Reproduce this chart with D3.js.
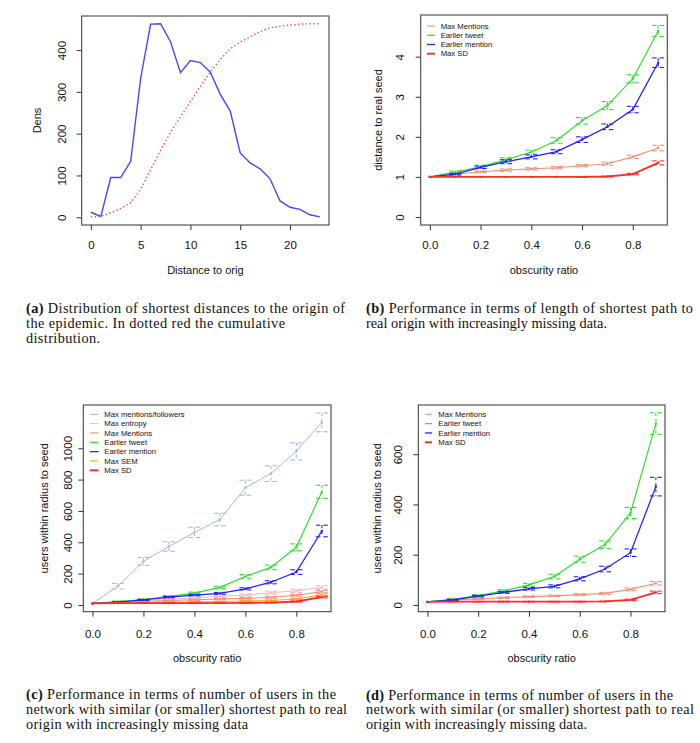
<!DOCTYPE html>
<html>
<head>
<meta charset="utf-8">
<script src="https://cdn.jsdelivr.net/npm/d3@7"></script>
<style>
body { margin: 0; background: #fff; }
svg { display: block; }
.cap { font-family: "Liberation Serif", "Times New Roman", serif; font-size: 14.3px; fill: #111; }
</style>
</head>
<body>
<div id="fig"></div>
<script>
'use strict';

// (a) shortest distance distribution
const dist = [0, 1, 2, 3, 4, 5, 6, 7, 8, 9, 10, 11, 12, 13, 14, 15, 16, 17, 18, 19, 20, 21, 22, 23];
const densCount = [12, 2, 95, 95, 134, 332, 462, 463, 420, 346, 375, 370, 347, 294, 254, 154, 130, 116, 92, 39, 24, 19, 6, 1];
const densCum = [1, 2, 11, 21, 35, 67, 114, 160, 203, 240, 277, 313, 347, 378, 403, 419, 432, 444, 453, 457, 460, 462, 463, 463];
const distTicks = [0, 5, 10, 15, 20];
const densTicks = [0, 100, 200, 300, 400];

// obscurity ratio, shared by b, c, d
const ratio = [0, 0.1, 0.2, 0.3, 0.4, 0.5, 0.6, 0.7, 0.8, 0.9];
const ratioTicks = [0, 0.2, 0.4, 0.6, 0.8];

// (b) distance to real seed
const bMentions = [1.00, 1.06, 1.13, 1.17, 1.20, 1.23, 1.28, 1.33, 1.50, 1.72];
const bMentionsErr = [0, 0.02, 0.02, 0.03, 0.03, 0.03, 0.03, 0.04, 0.04, 0.07];
const bTweet = [1.00, 1.12, 1.25, 1.43, 1.62, 1.91, 2.40, 2.78, 3.45, 4.64];
const bTweetErr = [0, 0.03, 0.04, 0.05, 0.05, 0.07, 0.08, 0.10, 0.10, 0.14];
const bMention = [1.00, 1.07, 1.24, 1.38, 1.50, 1.63, 1.93, 2.25, 2.68, 3.85];
const bMentionErr = [0, 0.02, 0.03, 0.05, 0.05, 0.05, 0.07, 0.07, 0.08, 0.12];
const bSD = [1.00, 1.00, 1.00, 1.00, 1.00, 1.00, 1.00, 1.01, 1.07, 1.35];
const bSDErr = [0, 0, 0, 0, 0, 0, 0.01, 0.01, 0.02, 0.05];
const bTicks = [0, 1, 2, 3, 4];

// (c) users within radius, all heuristics
const cFollowers = [10, 120, 278, 373, 463, 545, 748, 838, 980, 1165];
const cFollowersErr = [0, 18, 25, 30, 33, 40, 48, 50, 55, 60];
const cEntropy = [10, 18, 28, 36, 45, 55, 63, 78, 90, 112];
const cEntropyErr = [0, 3, 4, 5, 6, 7, 8, 10, 10, 12];
const cMentions = [10, 15, 22, 28, 33, 38, 42, 48, 62, 85];
const cMentionsErr = [0, 2, 3, 3, 4, 4, 5, 5, 6, 8];
const cTweet = [10, 22, 35, 55, 76, 112, 182, 240, 368, 722];
const cTweetErr = [0, 3, 4, 5, 6, 8, 12, 15, 22, 42];
const cMention = [10, 18, 32, 50, 63, 74, 103, 145, 210, 472];
const cMentionErr = [0, 2, 3, 4, 5, 6, 7, 10, 15, 37];
const cSEM = [10, 12, 15, 18, 20, 22, 25, 28, 38, 65];
const cSEMErr = [0, 1, 1, 2, 2, 2, 3, 3, 4, 6];
const cSD = [10, 12, 12, 12, 12, 12, 13, 15, 22, 50];
const cSDErr = [0, 1, 1, 1, 1, 1, 1, 2, 3, 5];
const cTicks = [0, 200, 400, 600, 800, 1000];

// (d) users within radius, best heuristics
const dMentions = [12, 20, 24, 29, 33, 36, 41, 46, 62, 86];
const dMentionsErr = [0, 2, 2, 3, 3, 3, 4, 4, 5, 7];
const dTweet = [12, 22, 37, 56, 80, 113, 182, 240, 366, 722];
const dTweetErr = [0, 3, 4, 5, 6, 9, 12, 15, 22, 43];
const dMention = [12, 20, 35, 50, 64, 74, 104, 143, 208, 471];
const dMentionErr = [0, 2, 3, 4, 5, 6, 8, 11, 15, 37];
const dSD = [12, 13, 13, 13, 13, 13, 13, 14, 20, 50];
const dSDErr = [0, 1, 1, 1, 1, 1, 1, 1, 3, 5];
const dTicks = [0, 200, 400, 600];

const col = {
	'Max mentions/followers': '#a6badd',
	'Max entropy': '#ffb3bd',
	'Max Mentions': '#f0917c',
	'Earlier tweet': '#2ee02e',
	'Earlier mention': '#2020ff',
	'Max SEM': '#ffa31a',
	'Max SD': '#ff2a2a'
};
const lw = {
	'Max mentions/followers': 1,
	'Max entropy': 1,
	'Max Mentions': 1.1,
	'Earlier tweet': 1.2,
	'Earlier mention': 1.3,
	'Max SEM': 1.1,
	'Max SD': 1.9
};

const sans = '"Liberation Sans", Arial, sans-serif';

const svg = d3.select('#fig').append('svg')
	.attr('width', 700)
	.attr('height', 743)
	;
svg.append('rect').attr('width', 700).attr('height', 743).attr('fill', '#fff');

function frame(p) {
	let x = d3.scaleLinear().domain(p.xdom).range([p.l, p.r]);
	let y = d3.scaleLinear().domain(p.ydom).range([p.b, p.t]);
	let g = svg.append('g');

	let ax = g.append('g')
		.attr('transform', 'translate(0,'+p.b+')')
		.call(d3.axisBottom(x).tickValues(p.xticks).tickSize(5).tickSizeOuter(0).tickFormat(p.xfmt))
		;
	ax.select('.domain').remove();
	ax.selectAll('line').attr('stroke', '#333');
	ax.selectAll('text')
		.attr('y', p.xgap)
		.attr('dy', 0)
		.attr('fill', '#111')
		.style('font-family', sans)
		.style('font-size', '11.5px')
		;

	let ay = g.append('g')
		.attr('transform', 'translate('+p.l+',0)')
		.call(d3.axisLeft(y).tickValues(p.yticks).tickSize(5).tickSizeOuter(0).tickFormat(d3.format('d')))
		;
	ay.select('.domain').remove();
	ay.selectAll('line').attr('stroke', '#333');
	ay.selectAll('text')
		.attr('transform', 'rotate(-90)')
		.attr('x', 0)
		.attr('y', -p.ygap)
		.attr('dy', 0)
		.attr('text-anchor', 'middle')
		.attr('fill', '#111')
		.style('font-family', sans)
		.style('font-size', '11.5px')
		;

	g.append('rect')
		.attr('x', p.l)
		.attr('y', p.t)
		.attr('width', p.r - p.l)
		.attr('height', p.b - p.t)
		.attr('fill', 'none')
		.attr('stroke', '#333')
		.attr('stroke-width', 1)
		;

	g.append('text')
		.attr('x', (p.l + p.r)/2)
		.attr('y', p.xlabY)
		.attr('text-anchor', 'middle')
		.attr('fill', '#111')
		.style('font-family', sans)
		.style('font-size', '11px')
		.text(p.xlab)
		;
	g.append('text')
		.attr('transform', 'translate('+p.ylabX+','+((p.t + p.b)/2)+') rotate(-90)')
		.attr('text-anchor', 'middle')
		.attr('fill', '#111')
		.style('font-family', sans)
		.style('font-size', '11px')
		.text(p.ylab)
		;

	let plot = g.append('g');
	return {x: x, y: y, g: plot};
}

function series(f, name, vals, errs) {
	let c = col[name];
	let line = d3.line().x((d, i) => f.x(ratio[i])).y(d => f.y(d));
	f.g.append('path')
		.datum(vals)
		.attr('d', line)
		.attr('fill', 'none')
		.attr('stroke', c)
		.attr('stroke-width', lw[name])
		;
	f.g.append('g').selectAll('circle')
		.data(vals)
		.join('circle')
		.attr('cx', (d, i) => f.x(ratio[i]))
		.attr('cy', d => f.y(d))
		.attr('r', 1.2)
		.attr('fill', c)
		;
	// dashed error bars, R arrows(angle=90, code=3, lty=2) style
	let eb = f.g.append('g').attr('stroke', c).attr('stroke-width', 1.1);
	for (let i=0 ; i<vals.length ; ++i) {
		if (!errs[i]) {
			continue;
		}
		let cx = f.x(ratio[i]);
		let lo = f.y(vals[i] - errs[i]);
		let hi = f.y(vals[i] + errs[i]);
		eb.append('line').attr('x1', cx).attr('x2', cx).attr('y1', hi).attr('y2', lo).attr('stroke-dasharray', '3,3');
		[lo, hi].forEach(function(yy) {
			eb.append('line').attr('x1', cx - 1.5).attr('x2', cx - 6).attr('y1', yy).attr('y2', yy);
			eb.append('line').attr('x1', cx + 1.5).attr('x2', cx + 6).attr('y1', yy).attr('y2', yy);
		});
	}
}

function legend(f, names, lx, tx, ty, step) {
	let lg = f.g.append('g');
	for (let i=0 ; i<names.length ; ++i) {
		let yy = ty + i*step;
		lg.append('line')
			.attr('x1', lx[0]).attr('x2', lx[1])
			.attr('y1', yy).attr('y2', yy)
			.attr('stroke', col[names[i]])
			.attr('stroke-width', lw[names[i]])
			;
		lg.append('text')
			.attr('x', tx)
			.attr('y', yy + 2.8)
			.attr('fill', '#111')
			.style('font-family', sans)
			.style('font-size', '7.7px')
			.text(names[i])
			;
	}
}

// (a)
let fa = frame({
	l: 81.7, r: 329, t: 16, b: 225,
	xdom: [-0.92, 23.92], ydom: [-18.5, 481.5],
	xticks: distTicks, yticks: densTicks, xfmt: d3.format('d'),
	xgap: 23.5, ygap: 16.2,
	xlab: 'Distance to orig', xlabY: 273.5,
	ylab: 'Dens', ylabX: 40.5
});
fa.g.append('path')
	.datum(densCount)
	.attr('d', d3.line().x((d, i) => fa.x(dist[i])).y(d => fa.y(d)))
	.attr('fill', 'none')
	.attr('stroke', '#4646ff')
	.attr('stroke-width', 1.4)
	;
fa.g.append('path')
	.datum(densCum)
	.attr('d', d3.line().x((d, i) => fa.x(dist[i])).y(d => fa.y(d)))
	.attr('fill', 'none')
	.attr('stroke', '#ff4646')
	.attr('stroke-width', 1.4)
	.attr('stroke-dasharray', '1.4,2.4')
	;

// (b)
let fb = frame({
	l: 420.7, r: 667.3, t: 15, b: 225,
	xdom: [-0.036, 0.936], ydom: [-0.2, 5.04],
	xticks: ratioTicks, yticks: bTicks, xfmt: d3.format('.1f'),
	xgap: 24.3, ygap: 17.2,
	xlab: 'obscurity ratio', xlabY: 273.5,
	ylab: 'distance to real seed', ylabX: 381.5
});
series(fb, 'Max Mentions', bMentions, bMentionsErr);
series(fb, 'Earlier tweet', bTweet, bTweetErr);
series(fb, 'Earlier mention', bMention, bMentionErr);
series(fb, 'Max SD', bSD, bSDErr);
legend(fb, ['Max Mentions', 'Earlier tweet', 'Earlier mention', 'Max SD'], [427, 435], 440.7, 26, 9.23);

// (c)
let fc = frame({
	l: 83.3, r: 331, t: 405, b: 611.7,
	xdom: [-0.036, 0.936], ydom: [-43, 1276],
	xticks: ratioTicks, yticks: cTicks, xfmt: d3.format('.1f'),
	xgap: 26.8, ygap: 11.8,
	xlab: 'obscurity ratio', xlabY: 662,
	ylab: 'users within radius to seed', ylabX: 48
});
series(fc, 'Max mentions/followers', cFollowers, cFollowersErr);
series(fc, 'Max entropy', cEntropy, cEntropyErr);
series(fc, 'Max Mentions', cMentions, cMentionsErr);
series(fc, 'Earlier tweet', cTweet, cTweetErr);
series(fc, 'Earlier mention', cMention, cMentionErr);
series(fc, 'Max SEM', cSEM, cSEMErr);
series(fc, 'Max SD', cSD, cSDErr);
legend(fc, ['Max mentions/followers', 'Max entropy', 'Max Mentions', 'Earlier tweet', 'Earlier mention', 'Max SEM', 'Max SD'], [90, 98.5], 104.3, 414.3, 9.33);

// (d)
let fd = frame({
	l: 418.3, r: 665, t: 405, b: 611.7,
	xdom: [-0.036, 0.936], ydom: [-27, 796],
	xticks: ratioTicks, yticks: dTicks, xfmt: d3.format('.1f'),
	xgap: 26.8, ygap: 16.6,
	xlab: 'obscurity ratio', xlabY: 662,
	ylab: 'users within radius to seed', ylabX: 381
});
series(fd, 'Max Mentions', dMentions, dMentionsErr);
series(fd, 'Earlier tweet', dTweet, dTweetErr);
series(fd, 'Earlier mention', dMention, dMentionErr);
series(fd, 'Max SD', dSD, dSDErr);
legend(fd, ['Max Mentions', 'Earlier tweet', 'Earlier mention', 'Max SD'], [425, 432], 438.3, 414.3, 9.33);

// captions: [tag, text, width] per line, tag only on first line
const captions = [
	{x: 26, y: 313.3, lines: [['(a)', 'Distribution of shortest distances to the origin of', 319], ['', 'the epidemic.  In dotted red the cumulative', 259], ['', 'distribution.', 74]]},
	{x: 366, y: 313.3, lines: [['(b)', 'Performance in terms of length of shortest path to', 327], ['', 'real origin with increasingly missing data.', 241]]},
	{x: 26, y: 699, lines: [['(c)', 'Performance in terms of number of users in the', 310], ['', 'network with similar (or smaller) shortest path to real', 321], ['', 'origin with increasingly missing data', 222]]},
	{x: 366, y: 699.5, lines: [['(d)', 'Performance in terms of number of users in the', 307], ['', 'network with similar (or smaller) shortest path to real', 328], ['', 'origin with increasingly missing data.', 221]]}
];
for (let i=0 ; i<captions.length ; ++i) {
	let cp = captions[i];
	for (let j=0 ; j<cp.lines.length ; ++j) {
		let ln = cp.lines[j];
		let t = svg.append('text')
			.classed('cap', true)
			.attr('x', cp.x)
			.attr('y', cp.y + j*14.8)
			.attr('textLength', ln[2])
			.attr('lengthAdjust', 'spacing')
			;
		if (ln[0]) {
			t.append('tspan').attr('font-weight', 'bold').text(ln[0]+' ');
		}
		t.append('tspan').text(ln[1]);
	}
}
</script>
</body>
</html>
